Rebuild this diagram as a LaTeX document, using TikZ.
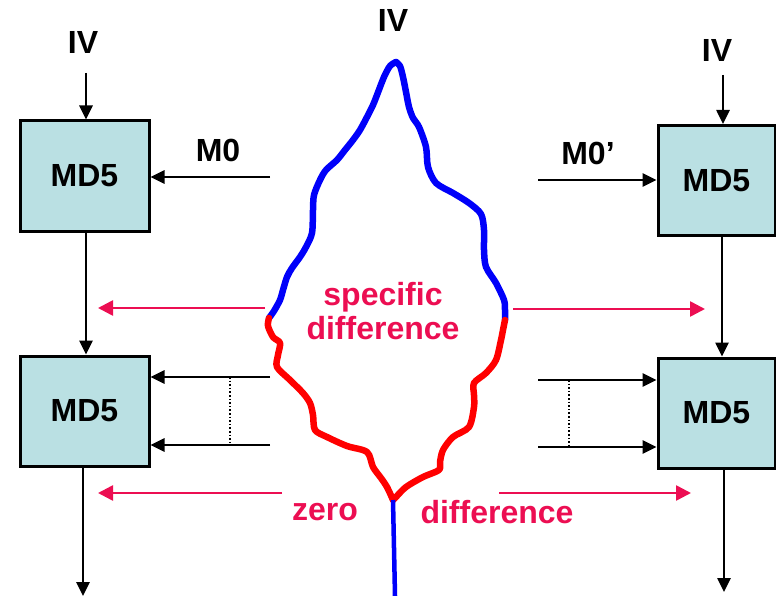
\documentclass[tikz,border=0pt]{standalone}
\usepackage{fontspec}
\setmainfont{Liberation Sans}
\usetikzlibrary{arrows.meta}
\definecolor{boxfill}{RGB}{186,224,227}
\definecolor{pinkred}{RGB}{236,14,82}
\definecolor{leafblue}{RGB}{0,0,250}
\definecolor{leafred}{RGB}{255,0,0}
\tikzset{
  mdbox/.style={draw=black, line width=3pt, fill=boxfill, inner sep=0pt,
    font=\fontsize{32}{36}\selectfont\bfseries},
  lbl/.style={inner sep=0pt, font=\fontsize{32}{36}\selectfont\bfseries},
  plbl/.style={inner sep=0pt, text=pinkred, align=center, font=\fontsize{32}{37}\selectfont\bfseries},
  blk/.style={draw=black, line width=2.6pt, -{Triangle[length=14pt,width=13pt]}},
  pnk/.style={draw=pinkred, line width=2.6pt, -{Triangle[length=15pt,width=15pt]}},
  dots/.style={draw=black, line width=1.6pt, dotted},
  leafb/.style={draw=leafblue, line width=6.5pt, line cap=round, line join=round},
  leafr/.style={draw=leafred, line width=6.5pt, line cap=round, line join=round},
}
\begin{document}
\begin{tikzpicture}[x=1pt,y=-1pt]
\useasboundingbox (0,0) rectangle (776,596);
% boxes
\node[mdbox, minimum width=129pt, minimum height=110pt] (L1) at (84.5,176) {MD5};
\node[mdbox, minimum width=129pt, minimum height=110pt] (L2) at (84.5,411) {MD5};
\node[mdbox, minimum width=117pt, minimum height=110pt] (R1) at (716.5,180.5) {MD5};
\node[mdbox, minimum width=117pt, minimum height=110pt] (R2) at (716.5,413) {MD5};
% labels
\node[lbl] (ivL) at (83,42) {IV};
\node[lbl] (ivC) at (393,20) {IV};
\node[lbl] (ivR) at (717,50) {IV};
\node[lbl] (m0) at (218,150) {M0};
\node[lbl] (m0p) at (588,153) {M0’};
\node[plbl] (spec) at (383,311) {specific\\[-3pt]difference};
\node[plbl] (zero) at (325,512) {zero};
\node[plbl] (diff) at (497,512) {difference};
% left column
\coordinate (aL) at (86,73);
\draw[blk] (aL) -- (aL |- L1.north);
\coordinate (m0s) at (270,177);
\draw[blk] (m0s) -- (m0s -| L1.east);
\draw[blk] (L1.south -| 86,0) -- (L2.north -| 86,0);
\coordinate (l2a) at (270,377);
\coordinate (l2b) at (270,445);
\draw[blk] (l2a) -- (l2a -| L2.east);
\draw[blk] (l2b) -- (l2b -| L2.east);
\coordinate (dLa) at (230,377);
\coordinate (dLb) at (230,445);
\draw[dots] (dLa) -- (dLb);
\coordinate (outL) at (83,596);
\draw[blk] (L2.south -| outL) -- (outL);
% right column
\coordinate (aR) at (723,75);
\draw[blk] (aR) -- (aR |- R1.north);
\coordinate (m0ps) at (538,180);
\draw[blk] (m0ps) -- (m0ps -| R1.west);
\draw[blk] (R1.south -| 722,0) -- (R2.north -| 722,0);
\coordinate (r2a) at (538,380);
\coordinate (r2b) at (538,447);
\draw[blk] (r2a) -- (r2a -| R2.west);
\draw[blk] (r2b) -- (r2b -| R2.west);
\coordinate (dRa) at (569,380);
\coordinate (dRb) at (569,447);
\draw[dots] (dRa) -- (dRb);
\coordinate (outR) at (724,592);
\draw[blk] (R2.south -| outR) -- (outR);
% pink arrows
\coordinate (p1s) at (265,308); \coordinate (p1e) at (98,308);
\coordinate (p2s) at (513,309); \coordinate (p2e) at (705,309);
\coordinate (p3s) at (282,493); \coordinate (p3e) at (98,493);
\coordinate (p4s) at (499,493); \coordinate (p4e) at (691,493);
\draw[pnk] (p1s) -- (p1e);
\draw[pnk] (p2s) -- (p2e);
\draw[pnk] (p3s) -- (p3e);
\draw[pnk] (p4s) -- (p4e);
% leaf
\coordinate (top) at (396,62);
\coordinate (jl) at (269,318);
\coordinate (jr) at (505,320);
\coordinate (bot) at (393,500);
\draw[leafb] plot[smooth, tension=0.5] coordinates {(top) (390,66) (384,77) (377,95) (373,105) (367,117) (360,130) (353,140) (345,150) (337,160) (326,170) (320,180) (314,195) (313,210) (312,233) (306,247) (300,257) (292,268) (287,277) (283,290) (280,300) (274,311) (jl)};
\draw[leafr] plot[smooth, tension=0.5] coordinates {(jl) (268,326) (273,337) (280,343) (278,355) (277,367) (290,380) (303,393) (310,403) (313,415) (315,430) (327,437) (347,446) (367,452) (373,467) (381,478) (387,487) (bot)};
\draw[leafb] plot[smooth, tension=0.5] coordinates {(top) (400,66) (403,77) (406,92) (409,107) (413,118) (419,127) (426,147) (428,167) (436,183) (453,193) (469,203) (481,214) (484,230) (484,250) (486,267) (496,283) (504,300) (505,310) (jr)};
\draw[leafr] plot[smooth, tension=0.5] coordinates {(jr) (503,330) (501,340) (496,360) (486,373) (474,383) (474,395) (474,407) (469,427) (453,437) (443,450) (440,462) (439,470) (423,477) (406,487) (396,497) (bot)};
\coordinate (stem) at (395,596);
\draw[draw=leafblue, line width=4.5pt] (bot) -- (stem);
\end{tikzpicture}
\end{document}
